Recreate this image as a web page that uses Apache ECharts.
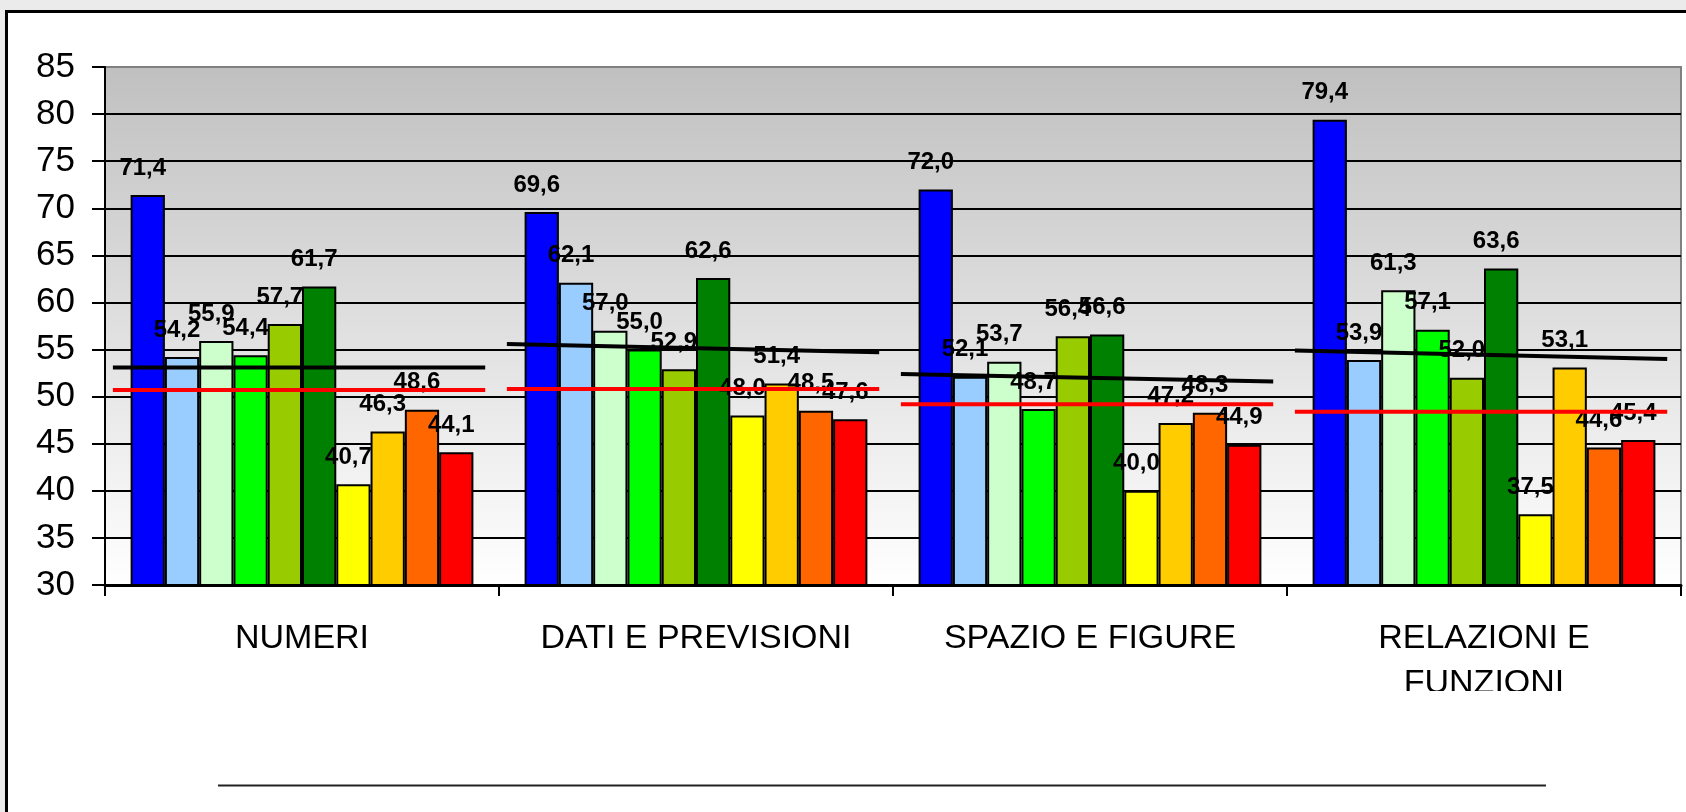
<!DOCTYPE html>
<html>
<head>
<meta charset="utf-8">
<script src="https://cdn.jsdelivr.net/npm/echarts@6/dist/echarts.min.js"></script>
<style>
  html, body { margin: 0; padding: 0; width: 1686px; height: 812px; overflow: hidden; background: #ebebeb; }
  #frame { position: absolute; left: 5px; top: 10px; width: 1800px; height: 900px; background: #fff;
           border-left: 3px solid #000; border-top: 3px solid #000; }
  #chart { position: absolute; left: 0; top: 0; width: 1686px; height: 812px; }
</style>
</head>
<body>
<div id="frame"></div>
<div id="chart"></div>
<script>
// ---- data ----
const categories = ['NUMERI', 'DATI E PREVISIONI', 'SPAZIO E FIGURE', 'RELAZIONI E\nFUNZIONI'];
const yTicks = { min: 30, max: 85, step: 5 };

const serie1  = [71.4, 69.6, 72.0, 79.4];
const serie2  = [54.2, 62.1, 52.1, 53.9];
const serie3  = [55.9, 57.0, 53.7, 61.3];
const serie4  = [54.4, 55.0, 48.7, 57.1];
const serie5  = [57.7, 52.9, 56.4, 52.0];
const serie6  = [61.7, 62.6, 56.6, 63.6];
const serie7  = [40.7, 48.0, 40.0, 37.5];
const serie8  = [46.3, 51.4, 47.2, 53.1];
const serie9  = [48.6, 48.5, 48.3, 44.6];
const serie10 = [44.1, 47.6, 44.9, 45.4];

// black reference line: value at start and end of each category group
const blackStart = [53.1, 55.6, 52.4, 54.9];
const blackEnd   = [53.1, 54.7, 51.6, 54.0];
// red reference line (flat) per category
const redLevel   = [50.7, 50.8, 49.2, 48.4];

// ---- styles ----
const barData = [serie1, serie2, serie3, serie4, serie5, serie6, serie7, serie8, serie9, serie10];
const barColors = ['#0000FF', '#99CCFF', '#CCFFCC', '#00FF00', '#99CC00', '#008000',
                   '#FFFF00', '#FFCC00', '#FF6600', '#FF0000'];
const FONT = "'Liberation Sans', Arial, sans-serif";
const lineFrom = 0.02, lineTo = 0.965;

const chart = echarts.init(document.getElementById('chart'), null, { renderer: 'canvas' });

const series = [];
barData.forEach((vals, i) => {
  series.push({
    name: 'Serie ' + (i + 1),
    type: 'bar',
    xAxisIndex: 0,
    data: vals,
    barGap: '0%',
    barCategoryGap: '13%',
    z: 2,
    itemStyle: { color: barColors[i], borderColor: '#000', borderWidth: 2 },
    label: {
      show: true, position: 'top', distance: 15, offset: [-5, 0],
      fontFamily: FONT, fontWeight: 'bold', fontSize: 24, color: '#000',
      formatter: p => p.value.toFixed(1).replace('.', ',')
    }
  });
});
categories.forEach((c, i) => {
  series.push({
    name: 'Media ' + (i + 1), type: 'line', xAxisIndex: 1, z: 10, silent: true,
    symbol: 'none', lineStyle: { color: '#000', width: 4 },
    data: [[i + lineFrom, blackStart[i]], [i + lineTo, blackEnd[i]]]
  });
  series.push({
    name: 'Rif ' + (i + 1), type: 'line', xAxisIndex: 1, z: 10, silent: true,
    symbol: 'none', lineStyle: { color: '#FF0000', width: 4 },
    data: [[i + lineFrom, redLevel[i]], [i + lineTo, redLevel[i]]]
  });
});

const nTicks = Math.round((yTicks.max - yTicks.min) / yTicks.step) + 1;
const splitColors = [];
for (let k = 0; k < nTicks; k++) splitColors.push(k === nTicks - 1 ? '#808080' : '#000');

chart.setOption({
  animation: false,
  textStyle: { fontFamily: FONT },
  grid: {
    left: 105, top: 67, right: 5, bottom: 227,
    show: true, borderColor: '#808080', borderWidth: 2,
    backgroundColor: new echarts.graphic.LinearGradient(0, 0, 0, 1, [
      { offset: 0, color: '#C0C0C0' }, { offset: 1, color: '#FFFFFF' }
    ])
  },
  xAxis: [{
    type: 'category', data: categories,
    axisLine: { show: true, lineStyle: { color: '#000', width: 3 } },
    axisTick: { show: true, interval: 0, length: 11, lineStyle: { color: '#000', width: 2 } },
    axisLabel: { interval: 0, fontFamily: FONT, fontSize: 34, lineHeight: 45, color: '#000', margin: 31 },
    splitLine: { show: false }
  }, {
    type: 'value', min: 0, max: categories.length, show: false
  }],
  yAxis: {
    type: 'value', min: yTicks.min, max: yTicks.max, interval: yTicks.step,
    axisLine: { show: true, lineStyle: { color: '#000', width: 2 } },
    axisTick: { show: true, length: 13, lineStyle: { color: '#000', width: 2 } },
    axisLabel: { fontFamily: FONT, fontSize: 35, color: '#000', margin: 30 },
    splitLine: { show: true, lineStyle: { color: splitColors, width: 2 } }
  },
  graphic: [
    { type: 'rect', zlevel: 1, z: 100, shape: { x: 1300, y: 691, width: 320, height: 40 }, style: { fill: '#fff' } },
    { type: 'line', zlevel: 1, z: 100, shape: { x1: 218, y1: 785.5, x2: 1546, y2: 785.5 }, style: { stroke: '#222', lineWidth: 2 } }
  ],
  series: series
});
</script>
</body>
</html>
